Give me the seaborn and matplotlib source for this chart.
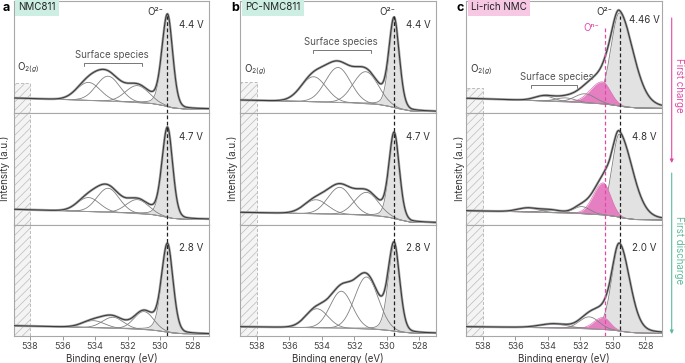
import numpy as np
import matplotlib
matplotlib.use("Agg")
import matplotlib.pyplot as plt
import seaborn as sns
from matplotlib.patches import Rectangle

# ---- data (intensities in arbitrary units) ----
energy_bg = [539, 535, 532, 530.5, 529.8, 529.2, 528.5, 527]

# panel a : NMC811
a_states = ["4.4 V", "4.7 V", "2.8 V"]
a_bg = [[15, 13, 11, 9.5, 7.5, 5, 4, 4],
        [15.2, 13.3, 11.5, 10, 8, 6, 5.2, 5.2],
        [10.3, 8.8, 7.3, 6, 4.5, 3, 2.2, 2]]
a_center = [[529.55, 534.4, 533.2, 531.4],
            [529.55, 534.4, 533.2, 531.4],
            [529.55, 534.1, 532.9, 531.0]]
a_height = [[92, 18, 25, 17], [90, 14, 24, 14], [88, 7, 11, 18]]
a_fwhm_hi = [[0.8, 1.7, 1.7, 1.7], [0.8, 1.6, 1.6, 1.6], [0.85, 1.6, 1.5, 1.4]]
a_fwhm_lo = [[0.75, 1.7, 1.7, 1.7], [0.75, 1.6, 1.6, 1.6], [0.8, 1.6, 1.5, 1.4]]

# panel b : PC-NMC811
b_states = ["4.4 V", "4.7 V", "2.8 V"]
b_bg = [[13, 11.5, 10, 8.5, 6.5, 4, 2, 1.5],
        [12.2, 11, 9.8, 8.5, 7, 4.5, 2.2, 1.8],
        [9.3, 8.5, 7.5, 6.5, 5.5, 4, 3, 2.7]]
b_center = [[529.55, 534.5, 533.0, 531.3],
            [529.55, 534.35, 532.9, 531.25],
            [529.55, 534.3, 532.8, 531.25]]
b_height = [[88, 25, 35, 32], [85, 14, 27, 23], [86, 19, 37, 52]]
b_fwhm_hi = [[0.75, 1.8, 1.8, 1.8], [0.75, 1.7, 1.7, 1.7], [0.85, 1.6, 1.6, 1.7]]
b_fwhm_lo = [[0.75, 1.8, 1.8, 1.8], [0.75, 1.7, 1.7, 1.7], [0.8, 1.6, 1.6, 1.7]]

# panel c : Li-rich NMC
c_states = ["4.46 V", "4.8 V", "2.0 V"]
c_bg = [[14.7, 12.5, 10.5, 9, 7.5, 6, 5, 4.7],
        [13.8, 12.5, 11, 9.5, 8, 6, 4.8, 4.5],
        [9.3, 8.5, 7.5, 6.5, 5.5, 4, 3, 2.7]]
c_center = [[529.6, 534.2, 532.9, 531.7],
            [529.6, 535.2, 533.8, 531.9],
            [529.6, 533.6, 531.45]]
c_height = [[93, 5, 4, 9], [83, 4, 2.5, 7], [87, 4, 12]]
c_fwhm_hi = [[1.25, 1.4, 1.4, 1.5], [1.05, 1.5, 1.3, 1.2], [1.1, 2.0, 1.4]]
c_fwhm_lo = [[2.0, 1.4, 1.4, 1.5], [1.9, 1.5, 1.3, 1.2], [1.5, 2.0, 1.4]]
c_on_center = [530.65, 530.6, 530.6]
c_on_height = [22, 32, 12]
c_on_fwhm_hi = [1.7, 1.4, 1.3]
c_on_fwhm_lo = [1.2, 1.1, 1.0]

o2_line = 529.55
on_line = 530.5
xticks = [538, 536, 534, 532, 530, 528]

# ---- style ----
sns.set_theme(style="white")
plt.rcParams["font.family"] = ["Inter", "DejaVu Sans"]
plt.rcParams["mathtext.default"] = "regular"
plt.rcParams["hatch.linewidth"] = 0.5

W, H = 685, 363
fig = plt.figure(figsize=(W / 100, H / 100), dpi=100)
fig.patch.set_facecolor("white")

PINK = "#e04aa6"
TEAL = "#5dbb9c"
GREY_LINE = "#808080"
ROW_TOP = [1.5, 113, 224.5]
ROW_BOT = [113, 224.5, 336]
YMAX = 111.5


def peak(e, c, h, w_hi, w_lo, eta=0.0):
    w = np.where(e >= c, w_hi, w_lo)
    x = (e - c) / w
    return h * ((1 - eta) * np.exp(-4 * np.log(2) * x ** 2) + eta / (1 + 4 * x ** 2))


def add_ax(x0, x1, y0, y1):
    return fig.add_axes([x0 / W, 1 - y1 / H, (x1 - x0) / W, (y1 - y0) / H])


def draw_column(x0, x1, bg, center, height, fwhm_hi, fwhm_lo, states,
                hatch_top, o2_x, surf, o2g_y, on=None):
    e = np.linspace(527, 539, 800)
    for r in range(3):
        ax = add_ax(x0, x1, ROW_TOP[r], ROW_BOT[r])
        base = np.interp(e, energy_bg[::-1], bg[r][::-1])
        main = peak(e, center[r][0], height[r][0], fwhm_hi[r][0], fwhm_lo[r][0], eta=0.2)
        comps = [peak(e, center[r][k], height[r][k], fwhm_hi[r][k], fwhm_lo[r][k])
                 for k in range(1, len(center[r]))]
        total = base + main + sum(comps)

        # hatched O2(g) region
        top = hatch_top if r == 0 else YMAX + 2
        ax.add_patch(Rectangle((538, -1), 1, top + 1, facecolor="#f4f4f4",
                               edgecolor="#bcbcbc", hatch="////", ls=(0, (3, 2)),
                               lw=0.7, zorder=0))

        ax.fill_between(e, base, base + main, color="#e2e2e2", lw=0, zorder=1)
        ax.plot(e, base + main, color=GREY_LINE, lw=0.6, zorder=2)
        if on is not None:
            pink = peak(e, on[0][r], on[1][r], on[2][r], on[3][r])
            total = total + pink
            ax.fill_between(e, base, base + pink, color="#e67fc2", lw=0, zorder=2)
            ax.plot(e, base + pink, color="#d777b5", lw=0.5, zorder=2)
        for comp in comps:
            ax.plot(e, base + comp, color=GREY_LINE, lw=0.6, zorder=3)
        ax.plot(e, base, color="#9a9a9a", lw=0.6, zorder=3)

        sns.lineplot(x=e, y=total, ax=ax, color="#aaaaaa", lw=1.8, zorder=4)
        sns.lineplot(x=e, y=total, ax=ax, color="#3c3c3c", lw=0.8, zorder=5)

        ax.axvline(o2_line, ymax=0.87 if r == 0 else 1, color="#222222",
                   ls=(0, (3, 2)), lw=0.9, zorder=6)
        if on is not None:
            ax.axvline(on_line, ymax=0.76 if r == 0 else 1, color=PINK,
                       ls=(0, (3, 2)), lw=0.9, zorder=6)

        ax.set_xlim(539, 527)
        ax.set_ylim(0, YMAX)
        ax.set_yticks([])
        ax.set_ylabel("")
        for sp in ax.spines.values():
            sp.set_color("#a8a8a8")
            sp.set_linewidth(0.8)

        ty = 93 if (r == 0 and on is not None) else 88
        tx = 529.0 if (r == 0 and on is not None) else 528.85
        ax.text(tx, ty, states[r], fontsize=7, color="#333333", ha="left", va="center")

        if r == 0:
            ax.text(o2_x, 101, "O²⁻", fontsize=7, color="#333333", ha="center", va="center")
            ax.text(538.8, o2g_y, r"O$_{2(\mathit{g})}$", fontsize=7, color="#333333",
                    ha="left", va="center")
            sx, sy, s1, s2 = surf
            ax.text(sx, sy, "Surface species", fontsize=7, color="#555555",
                    ha="center", va="center")
            ax.plot([s1, s1, s2, s2], [sy - 11, sy - 8, sy - 8, sy - 11],
                    color="#777777", lw=0.7)
            if on is not None:
                ax.text(531.35, 85, "Oⁿ⁻", fontsize=7, color=PINK,
                        ha="center", va="center")

        if r == 2:
            ax.set_xticks(xticks)
            ax.tick_params(axis="x", direction="out", length=3, width=0.6,
                           color="#888888", labelsize=6.5, labelcolor="#444444",
                           pad=1.5, bottom=True)
            ax.set_xlabel("Binding energy (eV)", fontsize=7, color="#333333", labelpad=1.5)
        else:
            ax.set_xticks([])
            ax.set_xlabel("")


draw_column(13.7, 209, a_bg, a_center, a_height, a_fwhm_hi, a_fwhm_lo, a_states,
            30, 530.3, (532.95, 58, 534.7, 531.1), 45)
draw_column(240.4, 435.7, b_bg, b_center, b_height, b_fwhm_hi, b_fwhm_lo, b_states,
            31, 530.0, (532.8, 71, 534.55, 531.0), 43)
draw_column(466.4, 661.7, c_bg, c_center, c_height, c_fwhm_hi, c_fwhm_lo, c_states,
            25, 530.5, (533.45, 36, 535.0, 532.2), 43,
            on=(c_on_center, c_on_height, c_on_fwhm_hi, c_on_fwhm_lo))

# ---- figure-level annotations (pixel coordinates) ----
ov = fig.add_axes([0, 0, 1, 1], zorder=10)
ov.set_xlim(0, W)
ov.set_ylim(H, 0)
ov.axis("off")
ov.patch.set_alpha(0)

for x, letter in [(3, "a"), (231, "b"), (457, "c")]:
    ov.text(x, 8, letter, fontsize=9, fontweight="bold", color="black", va="center", ha="left")

for x, name, col in [(18.5, "NMC811", "#cdeee3"), (245, "PC-NMC811", "#cdeee3"),
                     (471, "Li-rich NMC", "#f6c8e4")]:
    ov.text(x, 7.5, name, fontsize=7, color="#222222", va="center", ha="left",
            bbox=dict(boxstyle="square,pad=0.35", facecolor=col, edgecolor="none"))

for x in [5, 233, 460]:
    ov.text(x, 168, "Intensity (a.u.)", rotation=90, fontsize=7, color="#333333",
            ha="center", va="center")

ov.annotate("", xy=(671.7, 163), xytext=(671.7, 18),
            arrowprops=dict(arrowstyle="-|>", color=PINK, lw=0.8, mutation_scale=5,
                            shrinkA=0, shrinkB=0))
ov.annotate("", xy=(671.7, 334), xytext=(671.7, 173),
            arrowprops=dict(arrowstyle="-|>", color=TEAL, lw=0.8, mutation_scale=5,
                            shrinkA=0, shrinkB=0))
ov.text(679.5, 85, "First charge", rotation=-90, fontsize=7, color=PINK,
        ha="center", va="center")
ov.text(679.5, 250, "First discharge", rotation=-90, fontsize=7, color=TEAL,
        ha="center", va="center")

fig.savefig("out.png", dpi=100)
